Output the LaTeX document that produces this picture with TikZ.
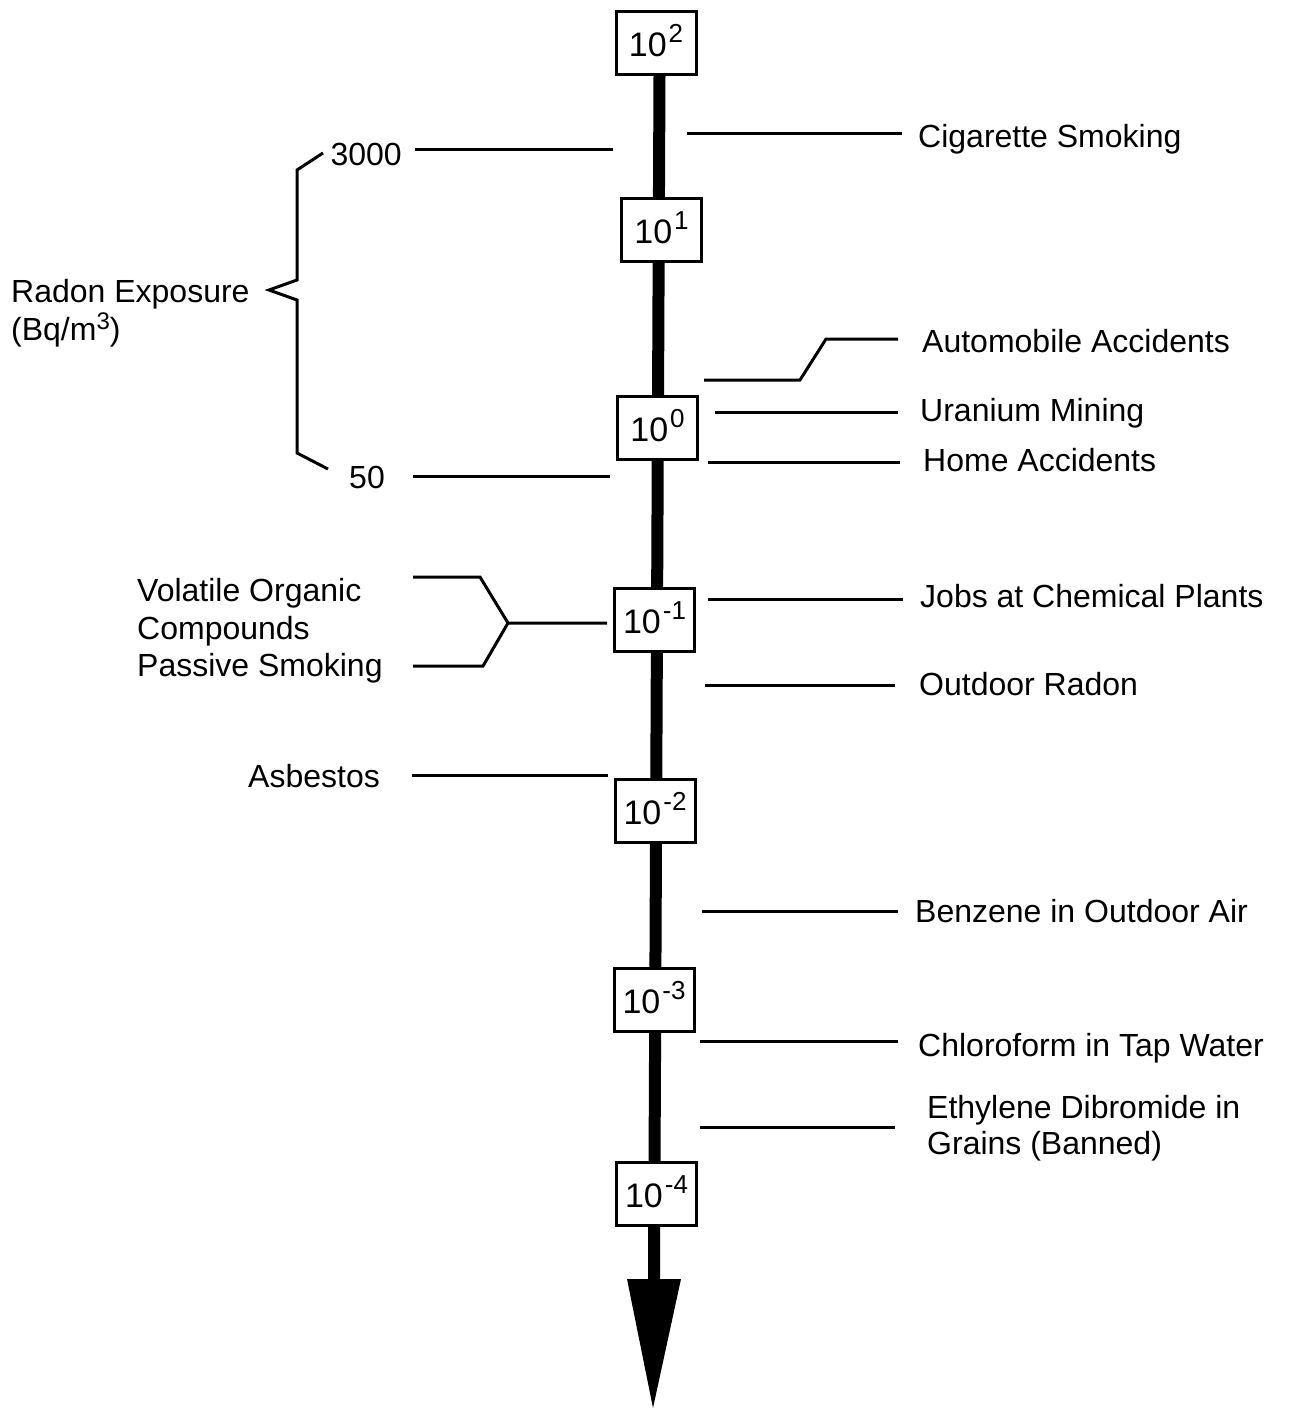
\documentclass[tikz,border=0pt]{standalone}
\usepackage{fontspec}
\setmainfont{Liberation Sans}
\usetikzlibrary{backgrounds}
\newcommand\lblfont{\fontsize{32}{38}\selectfont}
\newcommand\boxfont{\fontsize{34}{38}\selectfont}
\newcommand\supfont{\fontsize{26}{26}\selectfont}
\newcommand\pw[1]{10\hspace{2pt}\raisebox{14pt}{\supfont #1}}
\begin{document}
\begin{tikzpicture}[x=1pt,y=-1pt,
  lbl/.style={anchor=base west, inner sep=0pt, font=\lblfont},
  lblr/.style={anchor=base east, inner sep=0pt, font=\lblfont},
  pbox/.style={draw, line width=3pt, fill=white, minimum width=80pt, minimum height=63pt,
               inner sep=0pt, text height=27pt, text depth=0pt, font=\boxfont},
  spine/.style={line width=12pt},
  lead/.style={line width=3pt, line join=miter}]
\useasboundingbox (0,0) rectangle (1288,1411);

% scale boxes
\node[pbox] (b2)  at (656,42.5)   {\pw{2}};
\node[pbox] (b1)  at (661.5,230)  {\pw{1}};
\node[pbox] (b0)  at (657.5,427.5){\pw{0}};
\node[pbox] (bm1) at (654.5,620)  {\pw{-1}};
\node[pbox] (bm2) at (655,811)    {\pw{-2}};
\node[pbox] (bm3) at (654,1000)   {\pw{-3}};
\node[pbox] (bm4) at (656.5,1193.5){\pw{-4}};
\coordinate (ab) at (654,1279);
\coordinate (abl) at (627,1279);
\coordinate (abr) at (681,1279);
\coordinate (tip) at (653,1408);

% spine behind the boxes
\begin{scope}[on background layer]
\draw[spine] ([xshift=3.5pt]b2.south) -- (ab);
\end{scope}
\fill (abl) -- (abr) -- (tip) -- cycle;

% right labels
\node[lbl] (cig) at (918,147) {Cigarette Smoking};
\node[lbl] (auto) at (922,352) {Automobile Accidents};
\node[lbl] (uran) at (920,421) {Uranium Mining};
\node[lbl] (home) at (923,471) {Home Accidents};
\node[lbl] (jobs) at (920,607) {Jobs at Chemical Plants};
\node[lbl] (outr) at (919,695) {Outdoor Radon};
\node[lbl] (benz) at (915,922) {Benzene in Outdoor Air};
\node[lbl] (chlo) at (918,1056) {Chloroform in Tap Water};
\node[lbl] (eth1) at (927,1118) {Ethylene Dibromide in};
\node[lbl] (eth2) at (927,1154) {Grains (Banned)};

% right leaders
\draw[lead] (687,133) -- (902,133);
\draw[lead] (704,380) -- (800,380) -- (826,339) -- (898,339);
\draw[lead] (715,412) -- (898,412);
\draw[lead] (708,462) -- (900,462);
\draw[lead] (708,599) -- (903,599);
\draw[lead] (705,685) -- (895,685);
\draw[lead] (702,911) -- (898,911);
\draw[lead] (700,1041) -- (898,1041);
\draw[lead] (700,1127) -- (895,1127);

% left labels
\node[lblr] (n3000) at (402,165) {3000};
\node[lblr] (n50) at (385,488) {50};
\node[lbl] (rad1) at (11,302) {Radon Exposure};
\node[lbl] (rad2) at (11,340) {(Bq/m\raisebox{11pt}{\fontsize{24}{24}\selectfont 3})};
\node[lbl] (voc1) at (137,601) {Volatile Organic};
\node[lbl] (voc2) at (137,639) {Compounds};
\node[lbl] (voc3) at (137,676) {Passive Smoking};
\node[lblr] (asb) at (380,787) {Asbestos};

% left leaders
\draw[lead] (415,149) -- (613,149);
\draw[lead] (413,476) -- (610,476);
\draw[lead] (323,153) -- (297,170) -- (297,280) -- (269,290) -- (297,300) -- (297,453) -- (328,469);
\draw[lead] (413,577) -- (480,577) -- (508,623) -- (607,623);
\draw[lead] (413,666) -- (483,666) -- (508,623);
\draw[lead] (412,775) -- (608,775);
\end{tikzpicture}
\end{document}
